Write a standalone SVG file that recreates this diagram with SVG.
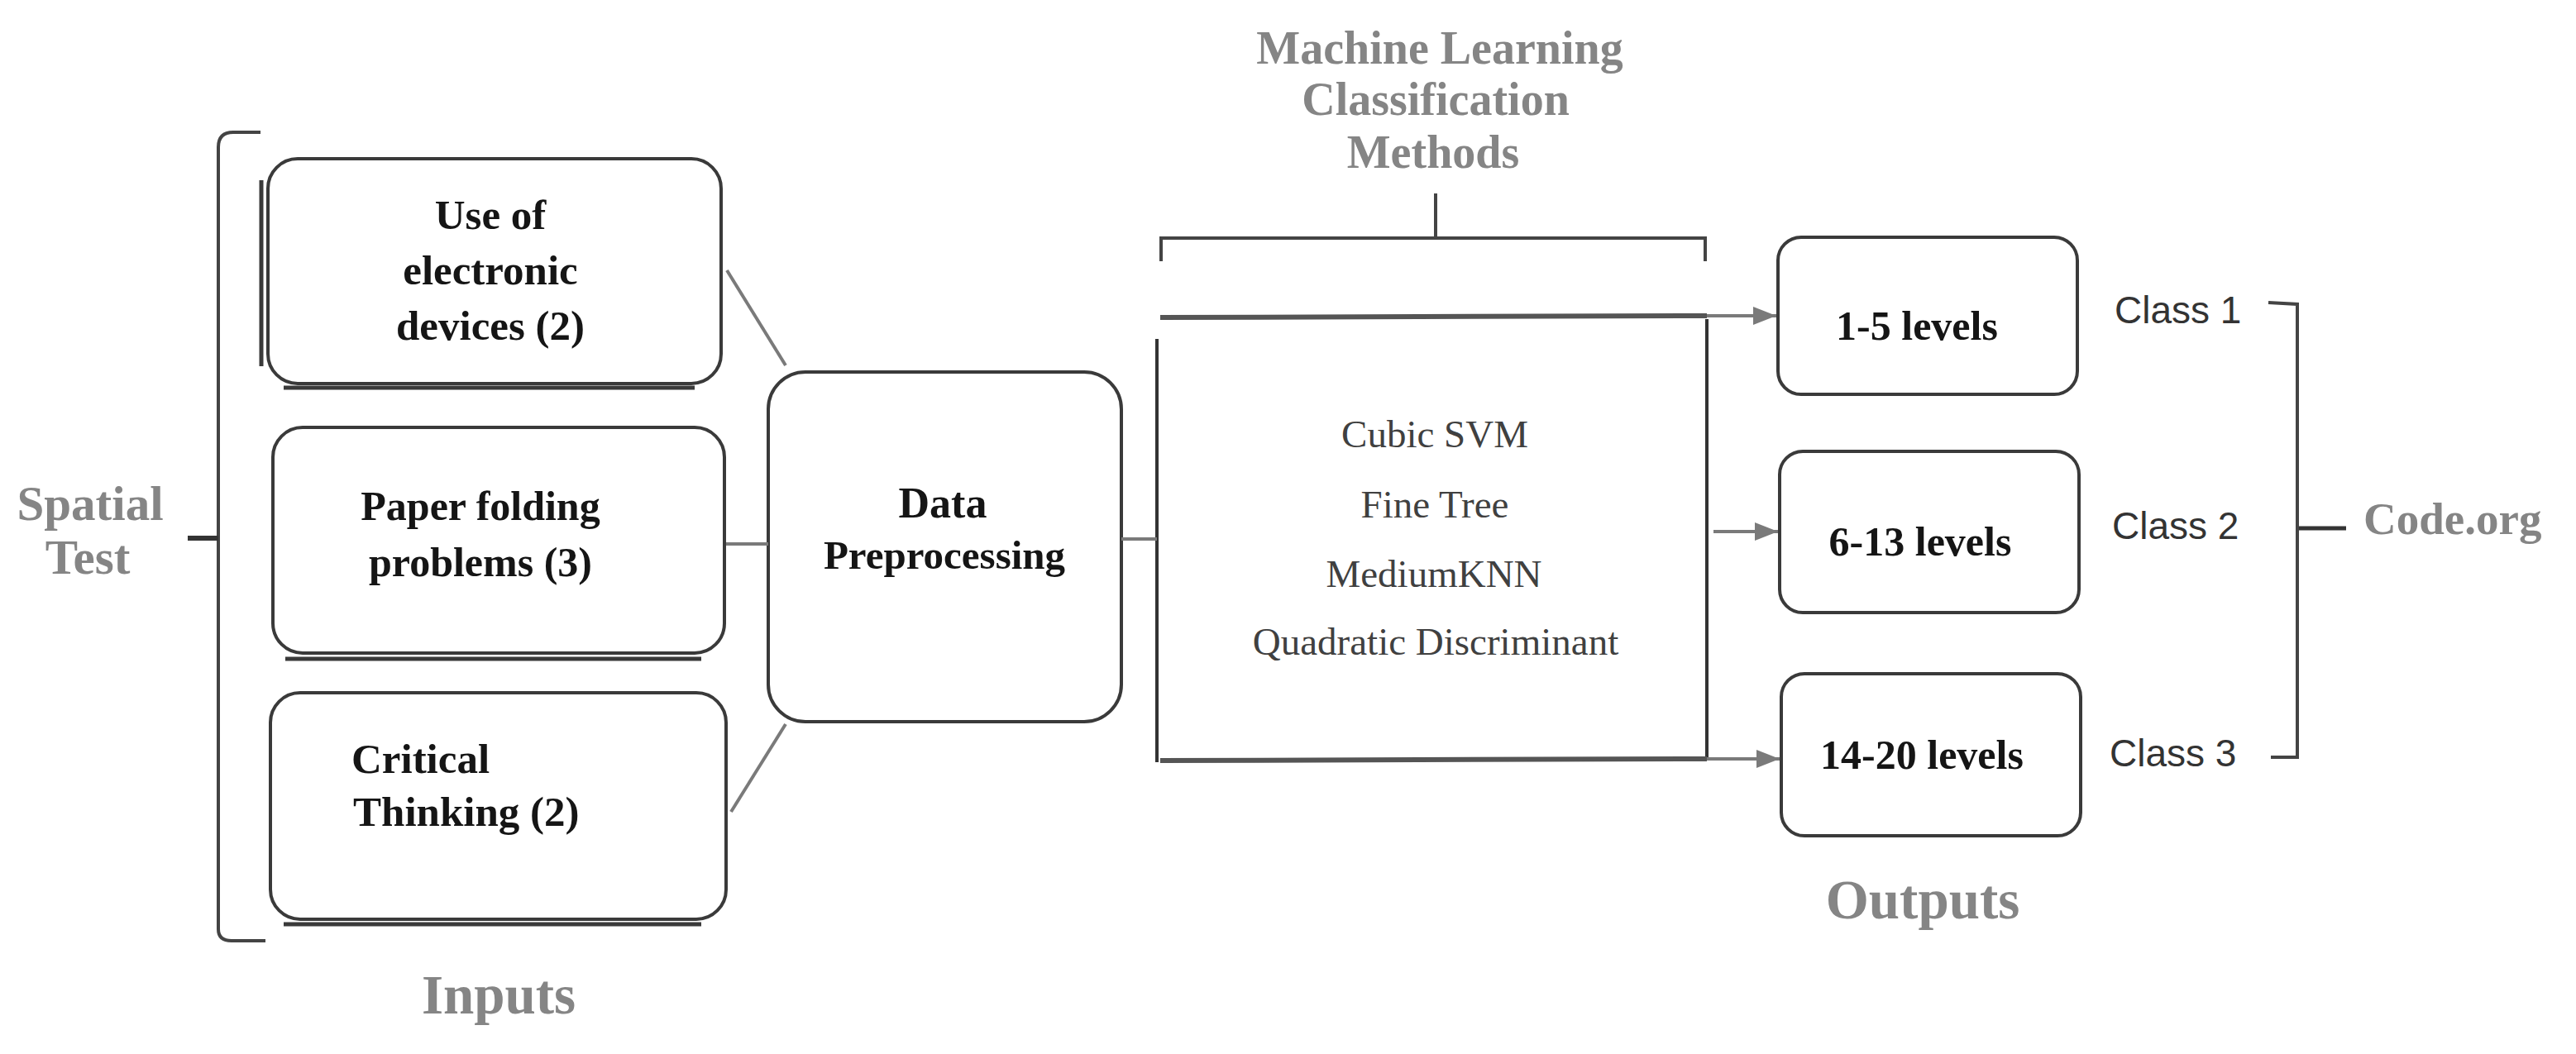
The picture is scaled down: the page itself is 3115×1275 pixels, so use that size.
<svg xmlns="http://www.w3.org/2000/svg" width="3115" height="1275" viewBox="0 0 3115 1275">
<defs>
<style>
.box{fill:#fff;stroke:#3a3a3a;stroke-width:4}
.edge{fill:none;stroke:#3a3a3a;stroke-width:5}
.brk{fill:none;stroke:#444;stroke-width:4}
.con{fill:none;stroke:#7a7a7a;stroke-width:4}
.b{font-family:"Liberation Serif","Times New Roman",serif;font-weight:bold;fill:#151515}
.g{font-family:"Liberation Serif","Times New Roman",serif;font-weight:bold;fill:#858585}
.m{font-family:"Liberation Serif","Times New Roman",serif;fill:#404040;font-size:47px;text-anchor:middle}
.c{font-family:"Liberation Sans",Arial,sans-serif;fill:#333;font-size:46px}
</style>
<marker id="ah" markerUnits="userSpaceOnUse" markerWidth="30" markerHeight="24" refX="28" refY="11" orient="auto">
<path d="M0,0 L28,11 L0,22 z" fill="#7a7a7a"/>
</marker>
</defs>
<rect width="3115" height="1275" fill="#fff"/>

<g id="spatial-test">
<path class="brk" d="M315,160 L282,160 Q264,160 264,178 L264,1124 Q264,1138 280,1138 L321,1138"/>
<path d="M227,651 L264,651" stroke="#333" stroke-width="6"/>
<text class="g" font-size="59" text-anchor="middle"><tspan x="109" y="629">Spatial</tspan><tspan x="106" y="694">Test</tspan></text>
</g>

<g id="input-1">
<rect class="box" x="324" y="192" width="548" height="272" rx="36"/>
<path class="edge" d="M343,469 L840,469 M316,218 L316,443"/>
<text class="b" font-size="51" text-anchor="middle"><tspan x="593" y="277">Use of</tspan><tspan x="593" y="344">electronic</tspan><tspan x="593" y="411">devices (2)</tspan></text>
</g>

<g id="input-2">
<rect class="box" x="330" y="517" width="546" height="273" rx="36"/>
<path class="edge" d="M345,797 L848,797"/>
<text class="b" font-size="50" text-anchor="middle"><tspan x="581" y="629">Paper folding</tspan><tspan x="581" y="697">problems (3)</tspan></text>
</g>

<g id="input-3">
<rect class="box" x="327" y="838" width="551" height="274" rx="36"/>
<path class="edge" d="M343,1118 L848,1118"/>
<text class="b" font-size="51"><tspan x="425" y="935">Critical</tspan><tspan x="427" y="999">Thinking (2)</tspan></text>
</g>

<g id="inputs-label">
<text class="g" font-size="67" x="603" y="1226" text-anchor="middle">Inputs</text>
</g>

<g id="data-preprocessing">
<rect class="box" x="929" y="450" width="427" height="423" rx="45"/>
<text class="b" font-size="52" x="1140" y="626" text-anchor="middle">Data</text>
<text class="b" font-size="49" x="1142" y="688" text-anchor="middle">Preprocessing</text>
</g>

<g id="ml-title">
<text class="g" font-size="56" text-anchor="middle"><tspan x="1741" y="77">Machine Learning</tspan><tspan x="1736" y="139">Classification</tspan><tspan x="1733" y="203">Methods</tspan></text>
<path class="brk" d="M1404,316 L1404,288 L2062,288 L2062,316 M1736,234 L1736,288"/>
</g>

<g id="ml-methods">
<path d="M1399,410 L1399,922 M2064,386 L2064,918" stroke="#333" stroke-width="4" fill="none"/>
<path d="M1403,920 L2064,918" stroke="#555" stroke-width="6" fill="none"/>
<path d="M1403,384 L2064,382" stroke="#555" stroke-width="6" fill="none"/>
<text class="m"><tspan x="1735" y="541">Cubic SVM</tspan><tspan x="1735" y="626">Fine Tree</tspan><tspan x="1734" y="710">MediumKNN</tspan><tspan x="1736" y="792">Quadratic Discriminant</tspan></text>
</g>

<g id="out-1">
<rect class="box" x="2150" y="287" width="362" height="190" rx="28"/>
<text class="b" font-size="50" x="2318" y="411" text-anchor="middle">1-5 levels</text>
</g>
<g id="out-2">
<rect class="box" x="2152" y="546" width="362" height="195" rx="28"/>
<text class="b" font-size="50" x="2322" y="672" text-anchor="middle">6-13 levels</text>
</g>
<g id="out-3">
<rect class="box" x="2154" y="815" width="362" height="196" rx="28"/>
<text class="b" font-size="50" x="2324" y="930" text-anchor="middle">14-20 levels</text>
</g>

<g id="outputs-label">
<text class="g" font-size="67" x="2325" y="1111" text-anchor="middle">Outputs</text>
</g>

<g id="classes">
<text class="c" x="2557" y="391">Class 1</text>
<text class="c" x="2554" y="652">Class 2</text>
<text class="c" x="2551" y="927">Class 3</text>
<path class="brk" d="M2743,366 L2778,368 L2778,916 L2746,916"/>
<path d="M2780,639 L2837,639" stroke="#333" stroke-width="5"/>
</g>

<g id="code-org">
<text class="g" font-size="55" x="2858" y="646">Code.org</text>
</g>

<g id="connectors">
<path class="con" d="M879,327 L950,442"/>
<path class="con" d="M878,658 L929,658"/>
<path class="con" d="M884,982 L950,876"/>
<path class="con" d="M1356,652 L1399,652"/>
<path class="con" d="M2064,382 L2148,382" marker-end="url(#ah)"/>
<path class="con" d="M2072,643 L2150,643" marker-end="url(#ah)"/>
<path class="con" d="M2064,918 L2152,918" marker-end="url(#ah)"/>
</g>
</svg>
